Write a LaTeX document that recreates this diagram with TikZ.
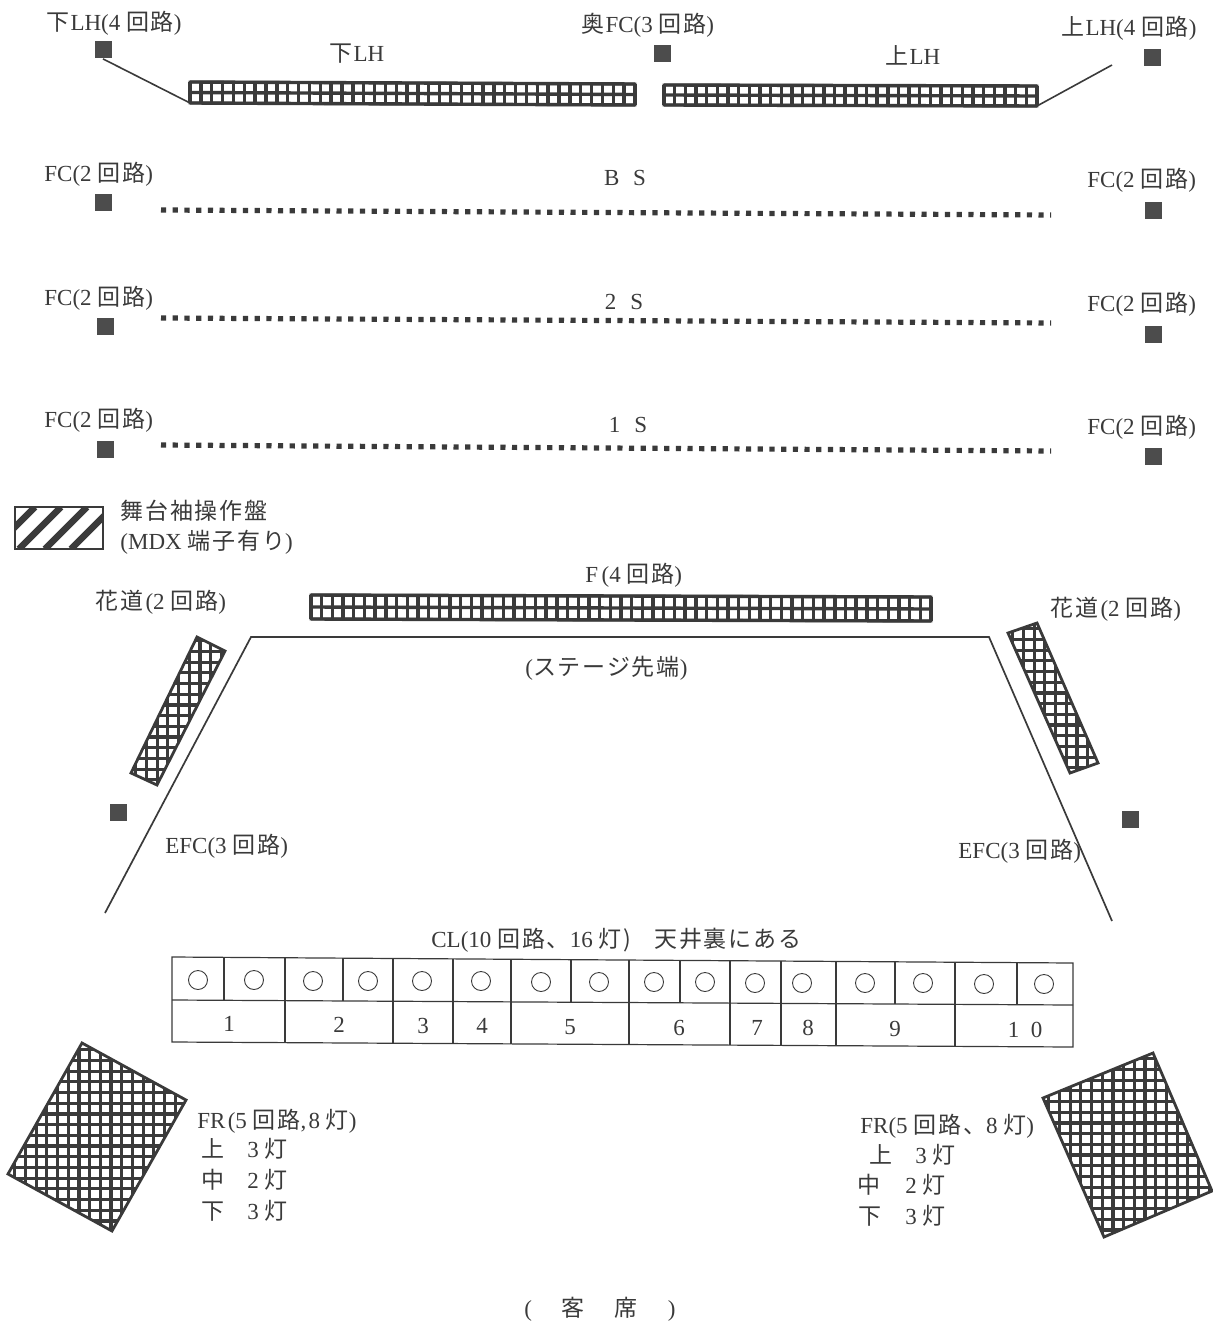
\documentclass[tikz,border=0pt]{standalone}
\usepackage{fontspec}
\setmainfont{Liberation Serif}
\newfontfamily\jfont{Noto Sans CJK JP}[LetterSpace=8]
\usetikzlibrary{calc}
\definecolor{ink}{HTML}{3A3A3A}
\definecolor{sq}{HTML}{4C4C4C}
\newcommand\J[1]{{\jfont #1}}
\newcommand\meshbar[6]{%
  \foreach \i in {0,...,#5} \draw[meshline] ($(#1)!\i/#5!(#2)$) -- ($(#4)!\i/#5!(#3)$);
  \foreach \i in {0,...,#6} \draw[meshline] ($(#1)!\i/#6!(#4)$) -- ($(#2)!\i/#6!(#3)$);
  \draw[meshedge] (#1) -- (#2) -- (#3) -- (#4) -- cycle;}
% clipped upright mesh inside a tilted outline: corners, xstart, xend, ystart, yend
\newcommand\meshtilt[8]{%
  \begin{scope}
  \clip (#1) -- (#2) -- (#3) -- (#4) -- cycle;
  \pgfmathsetmacro\xnext{#5+10.7}\pgfmathsetmacro\ynext{#7+10.7}
  \foreach \x in {#5,\xnext,...,#6} \draw[meshtiltline] (\x,#7) -- (\x,#8);
  \foreach \y in {#7,\ynext,...,#8} \draw[meshtiltline] (#5,\y) -- (#6,\y);
  \end{scope}
  \draw[meshedge] (#1) -- (#2) -- (#3) -- (#4) -- cycle;}
\tikzset{
  x=0.5pt,y=-0.5pt,
  lbl/.style={anchor=west,inner sep=0pt,text=ink,font=\fontsize{11.5}{13}\selectfont,text height=9pt,text depth=0pt},
  lblc/.style={lbl,anchor=center},
  meshline/.style={draw=ink,line width=1.7pt},
  meshtiltline/.style={draw=ink,line width=1.6pt},
  meshedge/.style={draw=ink,line width=1.4pt,line join=miter},
  lamp/.style={circle,draw=ink,line width=0.45pt,minimum size=9.5pt,inner sep=0pt},
  fixture/.style={rectangle,fill=sq,minimum size=8.5pt,inner sep=0pt},
  dots/.style={draw=ink,line width=2.6pt,dash pattern=on 2.6pt off 3.25pt},
  wire/.style={draw=ink,line width=0.8pt},
  stage/.style={draw=ink,line width=0.85pt,line join=miter},
  tbl/.style={draw=ink,line width=0.6pt}
}
\begin{document}
\begin{tikzpicture}
\useasboundingbox (0,0) rectangle (1212,1321);
% fixtures
\node[fixture] (sqLL) at (103,50) {};
\node[fixture] (sqOk) at (662,54) {};
\node[fixture] (sqUL) at (1152,58) {};
\node[fixture] (sqB1) at (103,203) {};
\node[fixture] (sqB2) at (1153,211) {};
\node[fixture] (sqC1) at (105,326) {};
\node[fixture] (sqC2) at (1153,334) {};
\node[fixture] (sqD1) at (105,449) {};
\node[fixture] (sqD2) at (1153,456) {};
\node[fixture] (sqE1) at (118,812) {};
\node[fixture] (sqE2) at (1130,819) {};
% bars
\coordinate (a1) at (190,82); \coordinate (b1) at (635,84); \coordinate (c1) at (635,105); \coordinate (d1) at (190,103);
\meshbar{a1}{b1}{c1}{d1}{41}{2}
\coordinate (a2) at (664,85); \coordinate (b2) at (1037,86); \coordinate (c2) at (1037,106); \coordinate (d2) at (664,105);
\meshbar{a2}{b2}{c2}{d2}{35}{2}
\coordinate (a3) at (311,595); \coordinate (b3) at (931,597); \coordinate (c3) at (931,621); \coordinate (d3) at (311,619);
\meshbar{a3}{b3}{c3}{d3}{58}{2}
% connectors
\coordinate (ulEnd) at (1112,65);
\draw[wire] (sqLL.south) -- (d1);
\draw[wire] (c2) -- (ulEnd);
% dotted battens
\coordinate (bs1) at (161,210); \coordinate (bs2) at (1051,215);
\coordinate (s21) at (161,318); \coordinate (s22) at (1051,323);
\coordinate (s11) at (161,445); \coordinate (s12) at (1051,451);
\draw[dots] (bs1) -- (bs2);
\draw[dots] (s21) -- (s22);
\draw[dots] (s11) -- (s12);
% legend
\coordinate (h1) at (15,507); \coordinate (h2) at (103,549);
\begin{scope}
\clip (h1) rectangle (h2);
\foreach \x in {-33,-7,...,87} \draw[draw=ink,line width=3.2pt] (\x,549) -- ++(42,-42);
\end{scope}
\draw[meshedge] (h1) rectangle (h2);
% hanamichi
\coordinate (hl1) at (197,637); \coordinate (hl2) at (225,651); \coordinate (hl3) at (157,785); \coordinate (hl4) at (131,773);
\meshtilt{hl1}{hl2}{hl3}{hl4}{125}{232}{630}{792}
\coordinate (hr1) at (1008,633); \coordinate (hr2) at (1037,623); \coordinate (hr3) at (1098,763); \coordinate (hr4) at (1070,773);
\meshtilt{hr1}{hr2}{hr3}{hr4}{1002}{1104}{618}{780}
% stage outline
\coordinate (st1) at (105,913); \coordinate (st2) at (251,637); \coordinate (st3) at (989,637); \coordinate (st4) at (1112,921);
\draw[stage] (st1) -- (st2) -- (st3) -- (st4);
% FR
\coordinate (fl1) at (82,1043); \coordinate (fl2) at (186,1100); \coordinate (fl3) at (112,1231); \coordinate (fl4) at (8,1174);
\meshtilt{fl1}{fl2}{fl3}{fl4}{4}{190}{1039}{1236}
\coordinate (fr1) at (1043,1098); \coordinate (fr2) at (1153,1053); \coordinate (fr3) at (1212,1191); \coordinate (fr4) at (1104,1237);
\meshtilt{fr1}{fr2}{fr3}{fr4}{1038}{1216}{1048}{1242}
% CL table
\coordinate (tl) at (172,957); \coordinate (tr) at (1073,963);
\coordinate (ml) at (172,1000); \coordinate (mr) at (1073,1005);
\coordinate (bl) at (172,1042); \coordinate (br) at (1073,1047);
\draw[tbl] (tl) -- (tr) -- (br) -- (bl) -- cycle;
\draw[tbl] (ml) -- (mr);
\foreach \x [evaluate=\x as \t using (\x-172)/901] in {224,285,343,393,453,511,571,629,680,730,781,836,895,955,1017}
  \draw[tbl] ($(tl)!\t!(tr)$) -- ($(ml)!\t!(mr)$);
\foreach \x [evaluate=\x as \t using (\x-172)/901] in {285,393,453,511,629,730,781,836,955}
  \draw[tbl] ($(ml)!\t!(mr)$) -- ($(bl)!\t!(br)$);
\foreach \x/\y in {198/980,254/980,313/981,368/981,422/981,481/981,541/982,599/982,654/982,705/982,755/983,802/983,865/983,923/983,984/984,1044/984}
  \node[lamp] (lamp\x) at (\x,\y) {};
\foreach \x/\y/\t in {229/1022/1,339/1023/2,423/1024/3,482/1024/4,570/1025/5,679/1026/6,757/1026/7,808/1026/8,895/1027/9,1025/1028/{1\hspace{0.5em}0}}
  \node[lblc] (num\x) at (\x,\y) {\t};
% labels
\node[lbl] (t1) at (46,22) {\J{下}\hspace{0.05em}LH(4 \J{回路})};
\node[lbl] (t2) at (581,24) {\J{奥}\hspace{0.05em}FC(3 \J{回路})};
\node[lbl] (t3) at (1061,27) {\J{上}\hspace{0.05em}LH(4 \J{回路})};
\node[lbl] (t4) at (329,53) {\J{下}\hspace{0.05em}LH};
\node[lbl] (t5) at (885,56) {\J{上}\hspace{0.05em}LH};
\node[lbl] (t6) at (44,173) {FC(2 \J{回路})};
\node[lbl] (t7) at (1087,179) {FC(2 \J{回路})};
\node[lbl] (t8) at (44,296) {FC(2 \J{回路})};
\node[lbl] (t9) at (1087,302) {FC(2 \J{回路})};
\node[lbl] (t10) at (44,418) {FC(2 \J{回路})};
\node[lbl] (t11) at (1087,425) {FC(2 \J{回路})};
\node[lblc] (t12) at (625,177) {B\hspace{0.6em}S};
\node[lblc] (t13) at (624,300) {2\hspace{0.6em}S};
\node[lblc] (t14) at (628,423) {1\hspace{0.6em}S};
\node[lbl] (t15) at (120,510) {\J{舞台袖操作盤}};
\node[lbl] (t16) at (120,540) {(MDX \J{端子有り})};
\node[lbl] (t17) at (585,573) {F\hspace{0.15em}(4 \J{回路})};
\node[lbl] (t18) at (95,600) {\J{花道}\hspace{0.1em}(2 \J{回路})};
\node[lbl] (t19) at (1050,607) {\J{花道}\hspace{0.1em}(2 \J{回路})};
\node[lbl] (t20) at (525,666) {(\J{ステージ先端})};
\node[lbl] (t21) at (165,844) {EFC(3 \J{回路})};
\node[lbl] (t22) at (958,849) {EFC(3 \J{回路})};
\node[lbl] (t23) at (431,938) {CL(10 \J{回路、}16 \J{灯)\quad 天井裏にある}};
\node[lbl] (t24) at (197,1119) {FR\hspace{0.1em}(5 \J{回路},\hspace{0.1em}8 \J{灯})};
\node[lbl] (t25) at (201,1148) {\J{上}};
\node[lbl] (t26) at (247,1148) {3 \J{灯}};
\node[lbl] (t27) at (201,1179) {\J{中}};
\node[lbl] (t28) at (247,1179) {2 \J{灯}};
\node[lbl] (t29) at (201,1210) {\J{下}};
\node[lbl] (t30) at (247,1210) {3 \J{灯}};
\node[lbl] (t31) at (860,1124) {FR(5 \J{回路、}8 \J{灯})};
\node[lbl] (t32) at (869,1154) {\J{上}};
\node[lbl] (t33) at (915,1154) {3 \J{灯}};
\node[lbl] (t34) at (857,1184) {\J{中}};
\node[lbl] (t35) at (905,1184) {2 \J{灯}};
\node[lbl] (t36) at (858,1215) {\J{下}};
\node[lbl] (t37) at (905,1215) {3 \J{灯}};
\node[lbl] (t38) at (524,1307) {(\hspace{1.3em}\J{客}\hspace{1.3em}\J{席}\hspace{1.3em})};
\end{tikzpicture}
\end{document}
